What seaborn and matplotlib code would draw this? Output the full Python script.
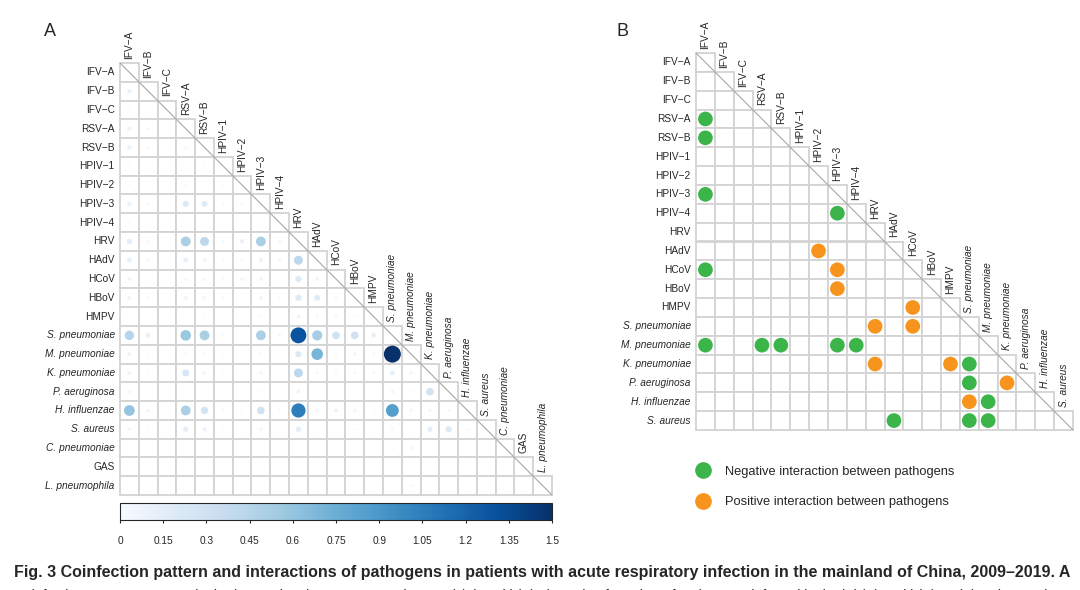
import numpy as np
import pandas as pd
import matplotlib
matplotlib.use("Agg")
import matplotlib.pyplot as plt
from matplotlib.patches import Rectangle
from matplotlib.lines import Line2D
import seaborn as sns

sns.set_style("white")
plt.rcParams['font.family'] = ['Liberation Sans', 'DejaVu Sans']

M = "\u2212"
viruses = ["IFV" + M + "A", "IFV" + M + "B", "IFV" + M + "C", "RSV" + M + "A", "RSV" + M + "B",
           "HPIV" + M + "1", "HPIV" + M + "2", "HPIV" + M + "3", "HPIV" + M + "4",
           "HRV", "HAdV", "HCoV", "HBoV", "HMPV"]
bacteria_a = ["S. pneumoniae", "M. pneumoniae", "K. pneumoniae", "P. aeruginosa",
              "H. influenzae", "S. aureus", "C. pneumoniae", "GAS", "L. pneumophila"]
italic_names = {"S. pneumoniae", "M. pneumoniae", "K. pneumoniae", "P. aeruginosa",
                "H. influenzae", "S. aureus", "C. pneumoniae", "L. pneumophila"}
pathogens_a = viruses + bacteria_a
pathogens_b = viruses + bacteria_a[:6]

# Panel A: lower triangle, row i has values for columns 0..i (diagonal = 0)
coinf = [
    [0],
    [0.1, 0],
    [0.02, 0, 0],
    [0.1, 0.05, 0, 0],
    [0.1, 0.03, 0, 0.05, 0],
    [0.02, 0, 0, 0.02, 0.02, 0],
    [0.02, 0, 0, 0.03, 0, 0.02, 0],
    [0.1, 0.03, 0, 0.2, 0.18, 0.03, 0.03, 0],
    [0.02, 0, 0, 0.02, 0, 0, 0, 0, 0],
    [0.15, 0.05, 0, 0.5, 0.42, 0.05, 0.1, 0.5, 0.05, 0],
    [0.12, 0.05, 0, 0.12, 0.08, 0.03, 0.03, 0.1, 0.05, 0.42, 0],
    [0.07, 0.02, 0, 0.05, 0.05, 0.03, 0.06, 0.07, 0.02, 0.2, 0.06, 0],
    [0.08, 0.03, 0, 0.08, 0.06, 0.03, 0.02, 0.08, 0.03, 0.2, 0.18, 0.04, 0],
    [0.02, 0.01, 0, 0.02, 0.02, 0, 0, 0.03, 0, 0.08, 0.04, 0.04, 0.03, 0],
    [0.45, 0.12, 0, 0.58, 0.5, 0.03, 0.02, 0.5, 0.05, 1.3, 0.53, 0.3, 0.3, 0.12, 0],
    [0.08, 0.02, 0, 0.03, 0.03, 0.02, 0.02, 0.04, 0.02, 0.2, 0.7, 0.04, 0.05, 0.04, 1.5, 0],
    [0.08, 0.02, 0, 0.25, 0.06, 0.02, 0, 0.06, 0.02, 0.42, 0.04, 0.04, 0.04, 0.04, 0.12, 0.05, 0],
    [0.05, 0.02, 0, 0.02, 0.02, 0, 0, 0.03, 0, 0.08, 0.02, 0.03, 0.02, 0.02, 0.06, 0.03, 0.3, 0],
    [0.6, 0.06, 0, 0.5, 0.28, 0.04, 0.03, 0.3, 0.04, 1.05, 0.06, 0.08, 0.06, 0.03, 0.85, 0.05, 0.05, 0.05, 0],
    [0.05, 0.02, 0, 0.15, 0.1, 0.02, 0, 0.05, 0.02, 0.15, 0.02, 0.02, 0.03, 0.02, 0.05, 0.02, 0.15, 0.2, 0.04, 0],
    [0.01, 0, 0, 0, 0, 0, 0, 0, 0, 0.02, 0.02, 0.02, 0.02, 0, 0.04, 0.06, 0.02, 0.01, 0.01, 0.01, 0],
    [0, 0, 0, 0, 0, 0, 0, 0, 0, 0, 0, 0, 0, 0, 0.01, 0.01, 0.01, 0.01, 0, 0, 0, 0],
    [0, 0, 0, 0, 0, 0, 0, 0, 0, 0, 0.01, 0, 0, 0, 0.02, 0.04, 0, 0, 0, 0, 0, 0, 0],
]

# Panel B: (row pathogen, column pathogen) pairs
negative_pairs = [
    ("RSV" + M + "A", "IFV" + M + "A"), ("RSV" + M + "B", "IFV" + M + "A"),
    ("HPIV" + M + "3", "IFV" + M + "A"), ("HPIV" + M + "4", "HPIV" + M + "3"),
    ("HCoV", "IFV" + M + "A"),
    ("M. pneumoniae", "IFV" + M + "A"), ("M. pneumoniae", "RSV" + M + "A"),
    ("M. pneumoniae", "RSV" + M + "B"), ("M. pneumoniae", "HPIV" + M + "3"),
    ("M. pneumoniae", "HPIV" + M + "4"),
    ("K. pneumoniae", "S. pneumoniae"), ("P. aeruginosa", "S. pneumoniae"),
    ("H. influenzae", "M. pneumoniae"),
    ("S. aureus", "HAdV"), ("S. aureus", "S. pneumoniae"), ("S. aureus", "M. pneumoniae"),
]
positive_pairs = [
    ("HAdV", "HPIV" + M + "2"), ("HCoV", "HPIV" + M + "3"), ("HBoV", "HPIV" + M + "3"),
    ("HMPV", "HCoV"), ("S. pneumoniae", "HRV"), ("S. pneumoniae", "HCoV"),
    ("K. pneumoniae", "HRV"), ("K. pneumoniae", "HMPV"),
    ("P. aeruginosa", "K. pneumoniae"), ("H. influenzae", "S. pneumoniae"),
]

colorbar_ticks = [0, 0.15, 0.3, 0.45, 0.6, 0.75, 0.9, 1.05, 1.2, 1.35, 1.5]
green = "#3bb54a"
orange = "#f7941d"
grid_col = "#d3d3d3"
lab_fs = 7.3


def draw_triangle(ax, names):
    n = len(names)
    for i in range(n):
        for j in range(i + 1):
            ax.add_patch(Rectangle((j, i), 1, 1, facecolor="white", edgecolor=grid_col,
                                   lw=1.3, zorder=1, clip_on=False))
    ax.plot([0, n], [0, n], color="#a8a8a8", lw=0.8, zorder=2, clip_on=False)
    for i, name in enumerate(names):
        style = "italic" if name in italic_names else "normal"
        ax.text(-0.28, i + 0.5, name, ha="right", va="center", fontsize=lab_fs, style=style)
        ax.text(i + 0.5, i - 0.22, name, ha="center", va="bottom", rotation=90,
                fontsize=lab_fs, style=style)
    ax.set_xlim(0, n)
    ax.set_ylim(n, 0)
    ax.axis("off")


fig = plt.figure(figsize=(10.8, 5.9), dpi=100)

# ---- Panel A ----
ax_a = fig.add_axes([120 / 1080, 1 - 495 / 590, 432 / 1080, 432 / 590])
draw_triangle(ax_a, pathogens_a)
rows = []
for i, vals in enumerate(coinf):
    for j, v in enumerate(vals):
        if v > 0:
            rows.append({"x": j + 0.5, "y": i + 0.5, "value": v})
df_a = pd.DataFrame(rows)
sns.scatterplot(data=df_a, x="x", y="y", hue="value", size="value", palette="Blues",
                hue_norm=(0, 1.5), size_norm=(0, 1.5), sizes=(0, 150), linewidth=0,
                legend=False, ax=ax_a, zorder=3, clip_on=False)
ax_a.set_xlim(0, 23)
ax_a.set_ylim(23, 0)
ax_a.axis("off")

cax = fig.add_axes([120 / 1080, 1 - 520 / 590, 432 / 1080, 17 / 590])
sm = plt.cm.ScalarMappable(cmap="Blues", norm=plt.Normalize(0, 1.5))
cb = fig.colorbar(sm, cax=cax, orientation="horizontal", ticks=colorbar_ticks)
cb.ax.set_xticklabels([f"{t:g}" for t in colorbar_ticks])
cb.ax.tick_params(labelsize=lab_fs, length=2.5, width=0.8, pad=9)
cb.outline.set_linewidth(0.8)

# ---- Panel B ----
ax_b = fig.add_axes([696 / 1080, 1 - 430 / 590, 377 / 1080, 377 / 590])
draw_triangle(ax_b, pathogens_b)
pts = []
for kind, pairs in [("Negative", negative_pairs), ("Positive", positive_pairs)]:
    for r, c in pairs:
        pts.append({"x": pathogens_b.index(c) + 0.5, "y": pathogens_b.index(r) + 0.5, "type": kind})
df_b = pd.DataFrame(pts)
sns.scatterplot(data=df_b, x="x", y="y", hue="type", palette={"Negative": green, "Positive": orange},
                s=112, linewidth=0, legend=False, ax=ax_b, zorder=3, clip_on=False)
ax_b.set_xlim(0, 20)
ax_b.set_ylim(20, 0)
ax_b.axis("off")

handles = [Line2D([], [], marker="o", ls="", color=green, markersize=11),
           Line2D([], [], marker="o", ls="", color=orange, markersize=11)]
fig.legend(handles, ["Negative interaction between pathogens", "Positive interaction between pathogens"],
           loc="upper left", bbox_to_anchor=(684 / 1080, 1 - 454 / 590), frameon=False,
           fontsize=9.3, handletextpad=1.1, labelspacing=1.45, handlelength=1.2)

fig.text(50 / 1080, 1 - 32 / 590, "A", fontsize=13, ha="center", va="center")
fig.text(623 / 1080, 1 - 32 / 590, "B", fontsize=13, ha="center", va="center")

fig.text(14 / 1080, 1 - 572 / 590,
         "Fig. 3 Coinfection pattern and interactions of pathogens in patients with acute respiratory "
         "infection in the mainland of China, 2009\u20132019. A",
         fontsize=11.5, fontweight="bold", va="center",
         family=["Liberation Sans Narrow", "Liberation Sans", "DejaVu Sans"])
fig.text(14 / 1080, 1 - 596 / 590,
         "Coinfection patterns among single-detected pathogens. For pathogens i (X) and j (Y), the ratio of "
         "number of patients co-infected by both i (X) and j (Y) and the observed",
         fontsize=10, va="center", family=["Liberation Sans Narrow", "Liberation Sans", "DejaVu Sans"])

fig.savefig("out.png", dpi=100)
